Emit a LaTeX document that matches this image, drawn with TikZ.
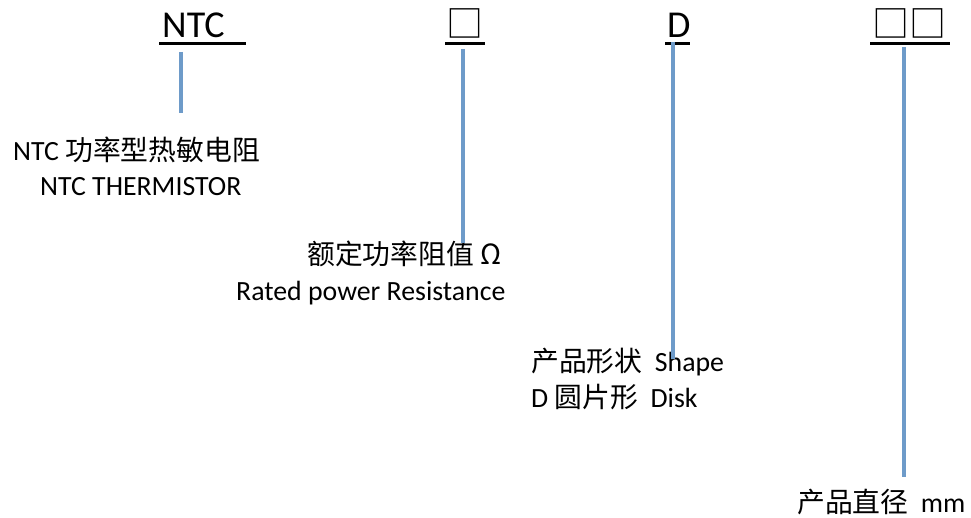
\documentclass[tikz,border=0pt]{standalone}
\usepackage{fontspec}
\setmainfont{Carlito}
\newfontfamily\cjk{Noto Sans CJK SC}
\definecolor{leadblue}{RGB}{110,155,201}
\begin{document}
\begin{tikzpicture}[x=1pt,y=-1pt,
  lbl/.style={inner sep=0pt, anchor=base west, font=\fontsize{27.8}{32}\selectfont},
  big/.style={inner sep=0pt, anchor=base west, font=\fontsize{38}{44}\selectfont},
  boxch/.style={inner sep=0pt, anchor=base west, font=\cjk\fontsize{37}{44}\selectfont},
  lead/.style={draw=leadblue, line width=4pt},
  uline/.style={draw=black, line width=2.5pt}]
\useasboundingbox (0,0) rectangle (971,518);
% top code
\node[big] (ntc) at (162,38) {NTC};
\node[boxch] (b1) at (446,38) {□};
\node[big] (d) at (667,38) {D};
\node[boxch] (b2) at (872,38) {□□};
% underlines
\coordinate (u1a) at (159,43.5); \coordinate (u1b) at (246,43.5);
\coordinate (u2a) at (445,43.5); \coordinate (u2b) at (485,43.5);
\coordinate (u3a) at (665,43.5); \coordinate (u3b) at (690,43.5);
\coordinate (u4a) at (870,43.5); \coordinate (u4b) at (950,43.5);
\draw[uline] (u1a) -- (u1b);
\draw[uline] (u2a) -- (u2b);
\draw[uline] (u3a) -- (u3b);
\draw[uline] (u4a) -- (u4b);
% labels
\node[lbl] (t1) at (13,161) {NTC {\cjk 功率型热敏电阻}};
\node[lbl] (t1e) at (40,196) {NTC THERMISTOR};
\node[lbl] (t2) at (307,265) {{\cjk 额定功率阻值 Ω}};
\node[lbl] (t2e) at (236,301) {Rated power Resistance};
\node[lbl] (t3) at (531,371) {{\cjk 产品形状}\ \ Shape};
\node[lbl] (t3e) at (531,407) {D {\cjk 圆片形}\ \ Disk};
\node[lbl] (t4) at (797,512) {{\cjk 产品直径}\ \ mm};
% leaders
\coordinate (l1a) at (181,52);  \coordinate (l1b) at (181,113);
\coordinate (l2a) at (463,49);  \coordinate (l2b) at (463,243);
\coordinate (l3a) at (673,42);  \coordinate (l3b) at (673,359);
\coordinate (l4a) at (904,47);  \coordinate (l4b) at (904,477);
\draw[lead] (l1a) -- (l1b);
\draw[lead] (l2a) -- (l2b);
\draw[lead] (l3a) -- (l3b);
\draw[lead] (l4a) -- (l4b);
\end{tikzpicture}
\end{document}
